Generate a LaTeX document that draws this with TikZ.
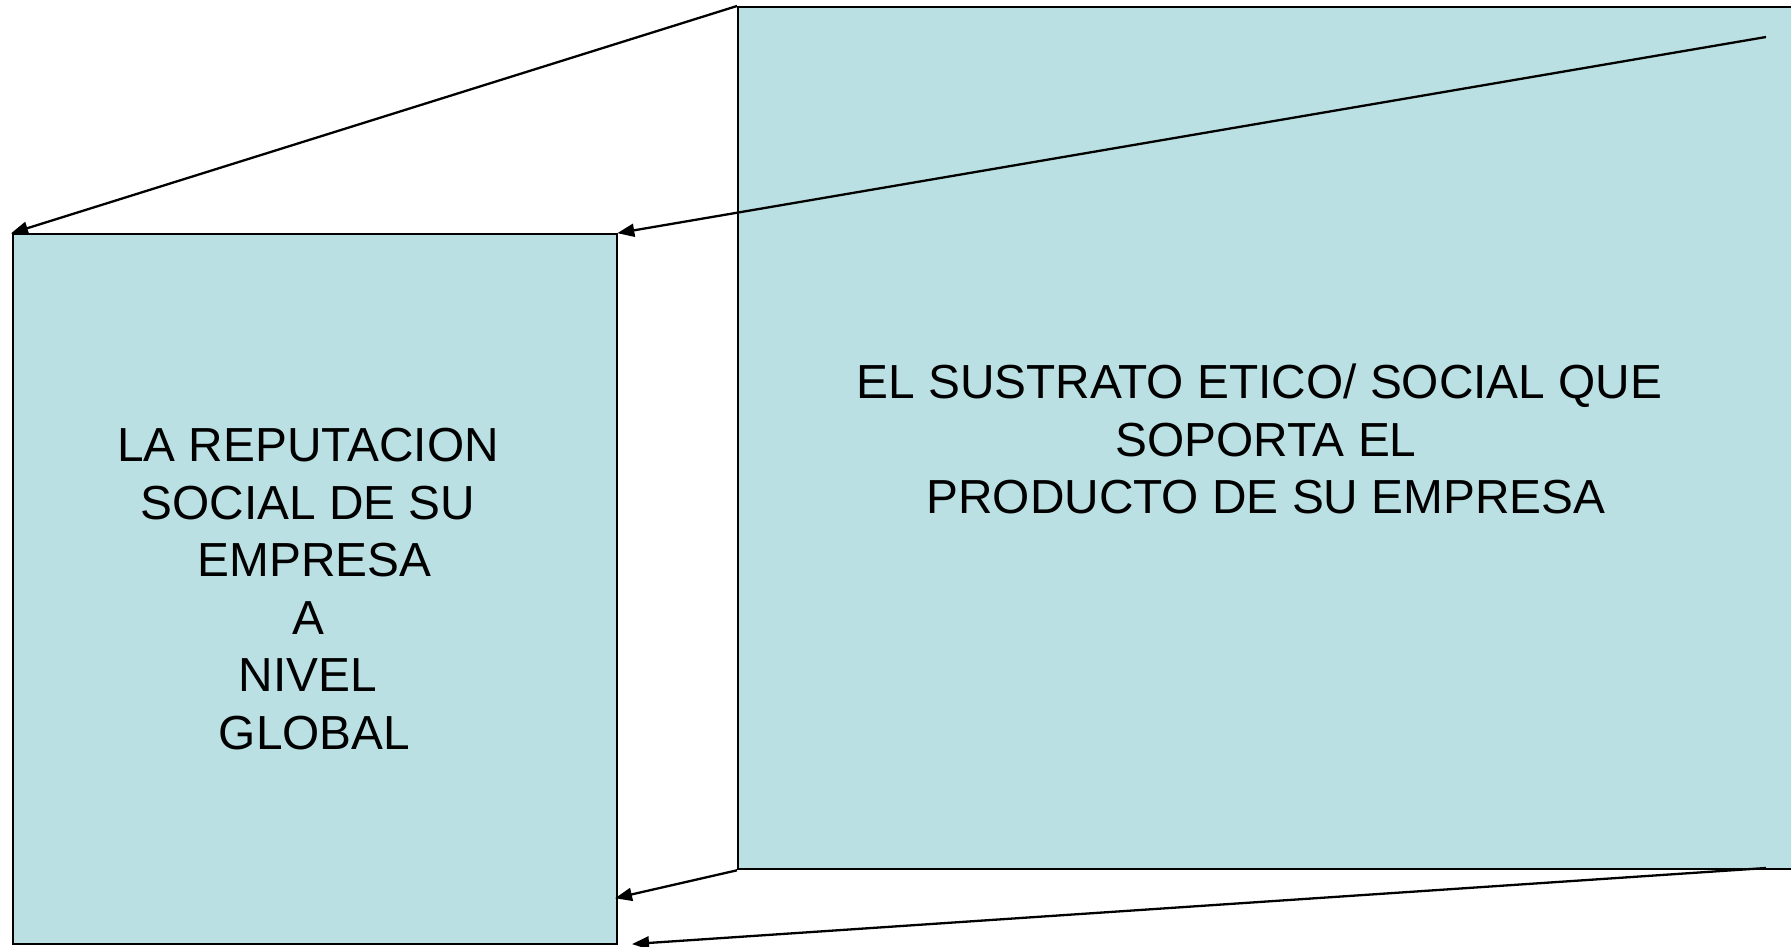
\documentclass[tikz,border=0pt]{standalone}
\usepackage{fontspec}
\setmainfont{Liberation Sans}
\usetikzlibrary{arrows.meta}
\definecolor{boxfill}{HTML}{BAE0E3}
\tikzset{
  panel/.style={draw=black, line width=2.3pt, fill=boxfill, inner sep=0pt, anchor=north west},
  arr/.style={draw=black, line width=2.3pt, -{Triangle[length=17pt,width=13pt]}, shorten >=-1pt},
  lbl/.style={align=center, font=\fontsize{47.8}{57.5}\selectfont, inner sep=0pt}
}
\begin{document}
\begin{tikzpicture}[x=1pt,y=-1pt]
\useasboundingbox (0,0) rectangle (1791,947);
\node[panel, minimum width=1100pt, minimum height=862pt] (rb) at (737,6) {};
\node[panel, minimum width=604pt, minimum height=710pt] (lb) at (12,233) {};
\node[lbl] (lt) at (308,589) {LA REPUTACION\\SOCIAL DE SU\\\hspace*{0.278em}EMPRESA\\A\\NIVEL\\\hspace*{0.278em}GLOBAL};
\node[lbl] (rt) at (1266,439) {EL SUSTRATO ETICO/ SOCIAL QUE\hspace*{0.278em}\\SOPORTA EL\\PRODUCTO DE SU EMPRESA};
\coordinate (s2) at (1766,37);
\coordinate (s4) at (1766,868);
\coordinate (e3) at (616,898);
\coordinate (e4) at (633,944);
\draw[arr] (rb.north west) -- (lb.north west);
\draw[arr] (s2) -- (lb.north east);
\draw[arr] (rb.south west) -- (e3);
\draw[arr] (s4) -- (e4);
\end{tikzpicture}
\end{document}
